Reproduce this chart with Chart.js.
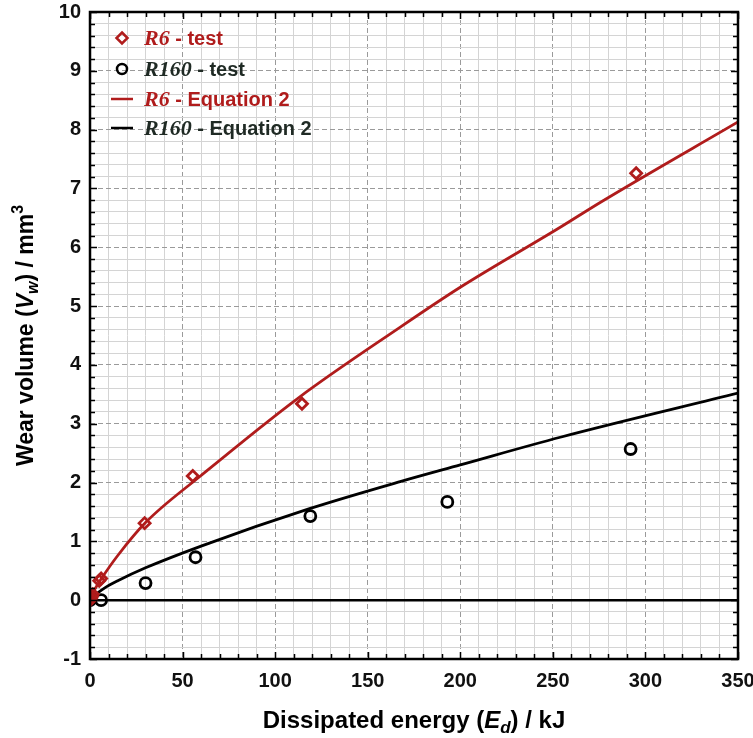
<!DOCTYPE html>
<html>
<head>
<meta charset="utf-8">
<script src="https://cdn.jsdelivr.net/npm/chart.js@4.4.0/dist/chart.umd.min.js"></script>
<style>
  body { margin: 0; background: #fff; }
  #wrap { width: 753px; height: 738px; position: relative; }
</style>
</head>
<body>
<div id="wrap"><canvas id="wearChart"></canvas></div>
<script>
// --- data ---
const r6TestX = [0, 0.5, 1, 1.5, 5, 6, 29.5, 55.5, 114.5, 295];
const r6TestY = [0, 0.03, 0.06, 0.1, 0.33, 0.37, 1.31, 2.11, 3.34, 7.26];

const r160TestX = [0, 6, 30, 57, 119, 193, 292];
const r160TestY = [0, 0, 0.29, 0.73, 1.43, 1.67, 2.57];

const r6EqX = [0, 2, 4, 6, 15, 30, 60, 113, 167, 200, 254, 276, 350];
const r6EqY = [0, 0.15, 0.26, 0.36, 0.76, 1.32, 2.12, 3.45, 4.63, 5.32, 6.34, 6.77, 8.13];

const r160EqX = [0, 2, 4, 8, 15, 30, 60, 119, 168, 200, 254, 350];
const r160EqY = [0, 0.07, 0.12, 0.21, 0.33, 0.55, 0.92, 1.56, 2.02, 2.3, 2.77, 3.52];

const zeroLineX = [0, 350];
const zeroLineY = [0, 0];

const xRange = [0, 350];
const yRange = [-1, 10];

const RED = '#b01c1c';
const INK = '#1f2a24';

const pts = (xs, ys) => xs.map((x, i) => ({ x, y: ys[i] }));
const near = (v, step) => Math.abs(v / step - Math.round(v / step)) < 1e-6;

// draws text made of several styled pieces
function richText(ctx, parts, x, y, align) {
    let w = 0;
    parts.forEach(p => { ctx.font = p.font; w += ctx.measureText(p.t).width; });
    let cx = align === 'center' ? x - w / 2 : x;
    parts.forEach(p => {
        ctx.font = p.font;
        ctx.fillStyle = p.color || '#000';
        ctx.fillText(p.t, cx, y + (p.dy || 0));
        cx += ctx.measureText(p.t).width;
    });
}

const SANS = 'Liberation Sans, Arial, sans-serif';
const SERIF = 'Liberation Serif, DejaVu Serif, serif';

// frame, inward ticks, axis titles and legend
const decorations = {
    id: 'decorations',
    afterDatasetsDraw(chart) {
        const { ctx, chartArea: a, scales: { x, y } } = chart;
        ctx.save();
        ctx.strokeStyle = '#000';
        // inward ticks on all four sides
        ctx.lineWidth = 1.5;
        for (let v = xRange[0]; v <= xRange[1] + 1e-6; v += 10) {
            const px = Math.round(x.getPixelForValue(v)) + 0.5;
            const len = near(v, 50) ? 7 : 5;
            ctx.beginPath();
            ctx.moveTo(px, a.bottom); ctx.lineTo(px, a.bottom - len);
            ctx.moveTo(px, a.top); ctx.lineTo(px, a.top + len);
            ctx.stroke();
        }
        for (let k = 0; k <= 55; k++) {
            const v = yRange[0] + k * 0.2;
            const py = Math.round(y.getPixelForValue(v)) + 0.5;
            const len = near(v, 1) ? 7 : 5;
            ctx.beginPath();
            ctx.moveTo(a.left, py); ctx.lineTo(a.left + len, py);
            ctx.moveTo(a.right, py); ctx.lineTo(a.right - len, py);
            ctx.stroke();
        }
        // frame
        ctx.lineWidth = 2.5;
        ctx.strokeRect(a.left, a.top, a.right - a.left, a.bottom - a.top);

        // axis titles
        ctx.textBaseline = 'alphabetic';
        const bold = '700 23px ' + SANS;
        const boldIt = 'italic 700 23px ' + SANS;
        const subIt = 'italic 700 16px ' + SANS;
        richText(ctx, [
            { t: 'Dissipated energy (', font: '700 24px ' + SANS },
            { t: 'E', font: 'italic 700 24px ' + SANS },
            { t: 'd', font: 'italic 700 17px ' + SANS, dy: 5 },
            { t: ') / kJ', font: '700 24px ' + SANS }
        ], (a.left + a.right) / 2, 728, 'center');

        ctx.save();
        ctx.translate(33, (a.top + a.bottom) / 2);
        ctx.rotate(-Math.PI / 2);
        richText(ctx, [
            { t: 'Wear volume (', font: bold },
            { t: 'V', font: boldIt },
            { t: 'w', font: subIt, dy: 5 },
            { t: ') / mm', font: bold },
            { t: '3', font: '700 16px ' + SANS, dy: -10 }
        ], 0, 0, 'center');
        ctx.restore();

        // legend
        const rows = [
            { kind: 'diamond', color: RED, name: 'R6', rest: ' - test', y: 38 },
            { kind: 'circle', color: '#000', textColor: INK, name: 'R160', rest: ' - test', y: 69 },
            { kind: 'line', color: RED, name: 'R6', rest: ' - Equation 2', y: 99 },
            { kind: 'line', color: '#000', textColor: INK, name: 'R160', rest: ' - Equation 2', y: 128 }
        ];
        rows.forEach(r => {
            const mx = 122;
            ctx.strokeStyle = r.color;
            ctx.lineWidth = 2.5;
            ctx.beginPath();
            if (r.kind === 'diamond') {
                ctx.moveTo(mx, r.y - 5.5); ctx.lineTo(mx + 5.5, r.y);
                ctx.lineTo(mx, r.y + 5.5); ctx.lineTo(mx - 5.5, r.y); ctx.closePath();
            } else if (r.kind === 'circle') {
                ctx.arc(mx, r.y, 5, 0, Math.PI * 2);
            } else {
                ctx.moveTo(mx - 11, r.y); ctx.lineTo(mx + 11, r.y);
            }
            ctx.stroke();
            const c = r.textColor || r.color;
            richText(ctx, [
                { t: r.name, font: 'italic 700 22px ' + SERIF, color: c },
                { t: r.rest, font: '700 20px ' + SANS, color: c }
            ], 144, r.y + 7, 'left');
        });
        ctx.restore();
    }
};

new Chart(document.getElementById('wearChart'), {
    type: 'scatter',
    data: {
        datasets: [
            {
                label: 'zero',
                data: pts(zeroLineX, zeroLineY),
                showLine: true, borderColor: '#000', borderWidth: 2.5,
                pointRadius: 0, order: 5
            },
            {
                label: 'R160 - Equation 2',
                data: pts(r160EqX, r160EqY),
                showLine: true, borderColor: '#000', borderWidth: 2.8,
                cubicInterpolationMode: 'monotone', pointRadius: 0, order: 4
            },
            {
                label: 'R6 - Equation 2',
                data: pts(r6EqX, r6EqY),
                showLine: true, borderColor: RED, borderWidth: 2.8,
                cubicInterpolationMode: 'monotone', pointRadius: 0, order: 3
            },
            {
                label: 'R160 - test',
                data: pts(r160TestX, r160TestY),
                pointStyle: 'circle', pointRadius: 5.5,
                borderColor: '#000', borderWidth: 2.8,
                backgroundColor: 'rgba(255,255,255,0)', order: 2
            },
            {
                label: 'R6 - test',
                data: pts(r6TestX, r6TestY),
                pointStyle: 'rectRot', pointRadius: 5.5,
                borderColor: RED, borderWidth: 2.8,
                backgroundColor: 'rgba(255,255,255,0)', order: 1
            }
        ]
    },
    options: {
        responsive: true,
        maintainAspectRatio: false,
        animation: false,
        layout: { padding: { top: 12, right: 15, left: 0, bottom: 0 } },
        plugins: { legend: { display: false }, tooltip: { enabled: false } },
        scales: {
            x: {
                type: 'linear', min: xRange[0], max: xRange[1],
                afterFit: s => { s.height = 79; s.paddingLeft = 0; s.paddingRight = 0; },
                ticks: {
                    stepSize: 10, padding: 10, color: '#111',
                    font: { family: SANS, size: 20, weight: 'bold' },
                    maxRotation: 0, autoSkip: false,
                    callback: v => near(v, 50) ? String(v) : ''
                },
                grid: {
                    drawTicks: false,
                    color: c => near(c.tick.value, 50) ? '#9a9a9a' : '#d4d4d4',
                    lineWidth: 1
                },
                border: {
                    display: false,
                    dash: c => near(c.tick.value, 50) ? [5, 3] : []
                }
            },
            y: {
                type: 'linear', min: yRange[0], max: yRange[1],
                afterFit: s => { s.width = 90; s.paddingTop = 0; s.paddingBottom = 0; },
                ticks: {
                    stepSize: 0.2, padding: 9, color: '#111',
                    font: { family: SANS, size: 20, weight: 'bold' },
                    autoSkip: false,
                    callback: v => near(v, 1) ? String(Math.round(v)) : ''
                },
                grid: {
                    drawTicks: false,
                    color: c => near(c.tick.value, 1) ? '#9a9a9a' : '#d4d4d4',
                    lineWidth: 1
                },
                border: {
                    display: false,
                    dash: c => near(c.tick.value, 1) ? [5, 3] : []
                }
            }
        }
    },
    plugins: [decorations]
});
</script>
</body>
</html>
